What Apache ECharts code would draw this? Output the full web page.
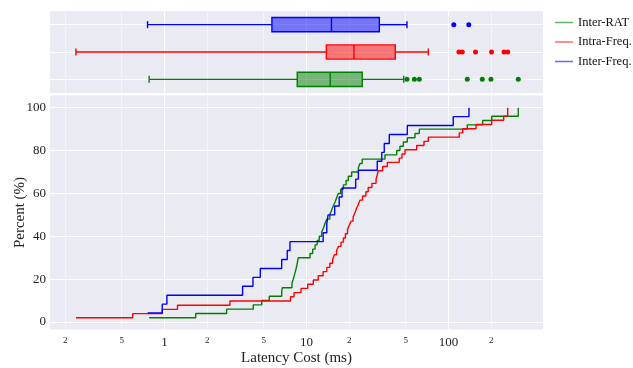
<!DOCTYPE html>
<html><head><meta charset="utf-8">
<script src="https://cdn.jsdelivr.net/npm/echarts@6/dist/echarts.min.js"></script>
<style>html,body{margin:0;padding:0;background:#fff}#c{width:633px;height:368px}</style>
</head><body><div id="c"></div>
<script>
// ---- data (latency cost in ms) ----
const seriesNames = ['Inter-RAT', 'Intra-Freq.', 'Inter-Freq.'];
const interRAT = [0.781, 1.66, 2.74, 4.22, 4.84, 5.47, 6.69, 6.75, 7.9, 8.07, 8.23, 8.39, 8.53, 8.64, 8.76,
  10.6, 11.06, 11.5, 11.9, 12.3, 12.8, 13.2, 13.5, 13.9, 14.6, 15.0, 15.4, 15.9, 16.3, 16.75,
  17.4, 18.2, 19.0, 19.7, 20.8, 23.2, 23.8, 24.7, 35.7, 43.2, 45.5, 48.1, 51.3, 58.1, 62.3,
  135.6, 174, 201.5, 310, 310];
const intraFreq = [0.238, 0.597, 0.965, 1.235, 2.89, 7.72, 8.17, 9.15, 10.2, 11.17, 12.1, 13.1, 13.9, 14.6,
  15.3, 15.75, 16.3, 16.8, 17.5, 18.2, 18.8, 19.45, 20.0, 20.6, 21.3, 21.96, 22.5, 23.2, 23.8, 24.8,
  26.2, 27.2, 28.9, 30.9, 31.5, 32.0, 34.4, 37.1, 45.0, 47.0, 49.4, 59.7, 67.2, 72.1,
  119.2, 125.9, 156.2, 201.5, 244.7, 261.2, 261.2];
const interFreq = [0.761, 0.965, 1.04, 3.55, 4.2, 4.73, 6.69, 7.32, 7.65, 13.1, 13.9, 14.2, 15.8, 17.0,
  17.8, 22.2, 23.2, 31.5, 33.9, 35.3, 38.3, 51.3, 108, 139.4];
// box stats: [whisker low, Q1, median, Q3, whisker high]
const boxInterRAT = [0.78, 8.61, 14.7, 24.7, 48.4];
const boxIntraFreq = [0.238, 13.8, 21.6, 42.2, 72.1];
const boxInterFreq = [0.76, 5.71, 15.0, 32.6, 51.0];
const outInterRAT = [51.0, 57.5, 62.3, 135.6, 173, 199, 310];
const outIntraFreq = [118.5, 125, 155, 201, 246, 261];
const outInterFreq = [109, 139];
const xTickValues = [0.2, 0.5, 1, 2, 5, 10, 20, 50, 100, 200];
const yTickValues = [0, 20, 40, 60, 80, 100];

// ---- styling ----
const FONT = 'Liberation Serif';
const colors = ['#008000', '#ff0000', '#0000ff'];
const fills = ['rgba(0,128,0,0.5)', 'rgba(255,0,0,0.5)', 'rgba(0,0,255,0.5)'];
const legendColors = ['rgba(0,128,0,0.6)', 'rgba(255,0,0,0.6)', 'rgba(0,0,255,0.6)'];
const L = Math.log10;
const xMin = -0.806, xMax = 2.6655;

const ecdfs = [interRAT, intraFreq, interFreq];
const boxes = [boxInterRAT, boxIntraFreq, boxInterFreq];
const outs = [outInterRAT, outIntraFreq, outInterFreq];

function xLabel(val) {
  const r = Math.round(Math.pow(10, val) * 10) / 10;
  if (r === 1 || r === 10 || r === 100) return '{b|' + r + '}';
  return '{s|' + String(r).replace(/[0.]/g, '') + '}';
}
const gridColors = ['#f6f6fa', '#f6f6fa', '#ffffff'];

function xAxisCfg(gi, showLabels) {
  return {
    type: 'value', gridIndex: gi, min: xMin, max: xMax,
    axisLine: {show: false}, axisTick: {show: false, customValues: xTickValues.map(L)},
    splitLine: {show: true, lineStyle: {color: gridColors, width: 1}},
    axisLabel: showLabels ? {
      show: true, customValues: xTickValues.map(L), formatter: xLabel, margin: 7,
      rich: {b: {fontFamily: FONT, fontSize: 13, color: '#222'}, s: {fontFamily: FONT, fontSize: 9, color: '#222'}}
    } : {show: false},
    name: showLabels ? 'Latency Cost (ms)' : '', nameLocation: 'middle', nameGap: 21, nameMoveOverlap: false,
    nameTextStyle: {fontFamily: FONT, fontSize: 15, color: '#222'}
  };
}

const option = {
  animation: false,
  backgroundColor: '#fff',
  grid: [
    {left: 50, top: 11, width: 493, height: 82, show: true, backgroundColor: '#eaeaf2', borderWidth: 0, outerBoundsMode: 'none', containLabel: false},
    {left: 50, top: 95.5, width: 493, height: 234, show: true, backgroundColor: '#eaeaf2', borderWidth: 0, outerBoundsMode: 'none', containLabel: false}
  ],
  xAxis: [xAxisCfg(0, false), xAxisCfg(1, true)],
  yAxis: [
    {type: 'value', gridIndex: 0, min: -0.5, max: 2.5, axisLine: {show: false},
      axisTick: {show: false, customValues: [0, 1, 2]}, axisLabel: {show: false},
      splitLine: {show: true, lineStyle: {color: '#fff', width: 1}}},
    {type: 'value', gridIndex: 1, min: -3.5, max: 105.7, axisLine: {show: false},
      axisTick: {show: false, customValues: yTickValues},
      axisLabel: {customValues: yTickValues, margin: 4, fontFamily: FONT, fontSize: 13, color: '#222'},
      splitLine: {show: true, lineStyle: {color: '#fff', width: 1}},
      name: 'Percent (%)', nameLocation: 'middle', nameGap: 22, nameMoveOverlap: false,
      nameTextStyle: {fontFamily: FONT, fontSize: 15, color: '#222'}}
  ],
  legend: {
    orient: 'vertical', left: 550, top: 11, itemWidth: 18, itemHeight: 1.5, itemGap: 6.5, icon: 'rect',
    textStyle: {fontFamily: FONT, fontSize: 12.5, color: '#111', lineHeight: 13},
    data: seriesNames.map((n, i) => ({name: n, itemStyle: {color: legendColors[i]}}))
  },
  series: []
};

// ECDF step lines
ecdfs.forEach((arr, i) => {
  const n = arr.length;
  option.series.push({
    name: seriesNames[i], type: 'line', xAxisIndex: 1, yAxisIndex: 1, step: 'end',
    symbol: 'none', showSymbol: false, silent: true,
    lineStyle: {color: colors[i], width: 1.4}, itemStyle: {color: colors[i]},
    data: arr.map((v, k) => [L(v), (k + 1) / n * 100])
  });
});

// box plots
option.series.push({
  type: 'custom', xAxisIndex: 0, yAxisIndex: 0, silent: true,
  encode: {x: [1, 2, 3, 4, 5], y: 0},
  data: boxes.map((b, i) => [i].concat(b.map(L))),
  renderItem: function (params, api) {
    const cy = api.value(0);
    const p = [1, 2, 3, 4, 5].map(k => api.coord([api.value(k), cy]));
    const h = api.size([0, 0.52])[1];
    const c = colors[params.dataIndex];
    const y = p[0][1];
    const ls = {stroke: c, lineWidth: 1.4};
    return {type: 'group', children: [
      {type: 'line', shape: {x1: p[0][0], y1: y, x2: p[1][0], y2: y}, style: ls},
      {type: 'line', shape: {x1: p[3][0], y1: y, x2: p[4][0], y2: y}, style: ls},
      {type: 'line', shape: {x1: p[0][0], y1: y - 3.5, x2: p[0][0], y2: y + 3.5}, style: ls},
      {type: 'line', shape: {x1: p[4][0], y1: y - 3.5, x2: p[4][0], y2: y + 3.5}, style: ls},
      {type: 'rect', shape: {x: p[1][0], y: y - h / 2, width: p[3][0] - p[1][0], height: h},
        style: {fill: fills[params.dataIndex], stroke: c, lineWidth: 1.4}},
      {type: 'line', shape: {x1: p[2][0], y1: y - h / 2, x2: p[2][0], y2: y + h / 2}, style: ls}
    ]};
  }
});

// outliers
outs.forEach((arr, i) => {
  option.series.push({
    type: 'scatter', xAxisIndex: 0, yAxisIndex: 0, silent: true, symbolSize: 5,
    itemStyle: {color: colors[i], opacity: 1},
    data: arr.map(v => [L(v), i])
  });
});

const chart = echarts.init(document.getElementById('c'), null, {renderer: 'canvas'});
chart.setOption(option);
</script>
</body></html>
